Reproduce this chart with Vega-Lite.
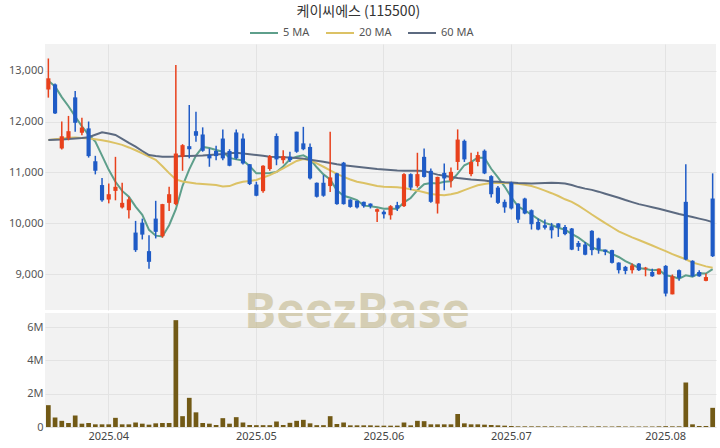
{
  "$schema": "https://vega.github.io/schema/vega-lite/v6.json",
  "background": "white",
  "padding": {"left": 0, "right": 4, "top": 5, "bottom": 0},
  "title": {"text": "케이씨에스 (115500)", "font": "Noto Sans CJK KR", "fontSize": 14, "fontWeight": "normal", "color": "#333333", "anchor": "middle", "offset": -1},
  "datasets": {
    "d": [
      {"date":"2025-03-19","open":12630,"high":13240,"low":12470,"close":12850,"volume":1310000,"ma5":12800,"ma20":11635,"ma60":11635},
      {"date":"2025-03-20","open":12730,"high":12750,"low":12150,"close":12160,"volume":570000,"ma5":12690,"ma20":11650,"ma60":11640},
      {"date":"2025-03-21","open":11470,"high":12000,"low":11450,"close":11710,"volume":370000,"ma5":12480,"ma20":11665,"ma60":11645},
      {"date":"2025-03-24","open":11670,"high":12110,"low":11630,"close":11810,"volume":240000,"ma5":12300,"ma20":11680,"ma60":11655},
      {"date":"2025-03-25","open":12475,"high":12600,"low":11800,"close":11975,"volume":690000,"ma5":12100,"ma20":11685,"ma60":11665},
      {"date":"2025-03-26","open":11780,"high":12075,"low":11730,"close":11880,"volume":200000,"ma5":11905,"ma20":11675,"ma60":11675},
      {"date":"2025-03-27","open":11865,"high":12000,"low":11290,"close":11320,"volume":240000,"ma5":11740,"ma20":11665,"ma60":11690},
      {"date":"2025-03-28","open":11220,"high":11325,"low":10960,"close":11030,"volume":160000,"ma5":11605,"ma20":11650,"ma60":11740},
      {"date":"2025-03-31","open":10750,"high":10890,"low":10420,"close":10450,"volume":160000,"ma5":11330,"ma20":11630,"ma60":11790},
      {"date":"2025-04-01","open":10465,"high":10780,"low":10390,"close":10570,"volume":160000,"ma5":11050,"ma20":11605,"ma60":11765},
      {"date":"2025-04-02","open":10635,"high":11305,"low":10450,"close":10715,"volume":550000,"ma5":10815,"ma20":11575,"ma60":11735},
      {"date":"2025-04-03","open":10310,"high":10795,"low":10290,"close":10400,"volume":160000,"ma5":10635,"ma20":11540,"ma60":11660},
      {"date":"2025-04-04","open":10255,"high":10520,"low":10090,"close":10470,"volume":160000,"ma5":10520,"ma20":11490,"ma60":11580},
      {"date":"2025-04-07","open":9815,"high":10045,"low":9435,"close":9470,"volume":270000,"ma5":10325,"ma20":11435,"ma60":11505},
      {"date":"2025-04-08","open":10010,"high":10090,"low":9680,"close":9775,"volume":200000,"ma5":10165,"ma20":11375,"ma60":11420},
      {"date":"2025-04-09","open":9450,"high":9765,"low":9105,"close":9240,"volume":140000,"ma5":9870,"ma20":11310,"ma60":11340},
      {"date":"2025-04-10","open":10090,"high":10440,"low":9700,"close":9830,"volume":220000,"ma5":9755,"ma20":11245,"ma60":11320},
      {"date":"2025-04-11","open":9745,"high":10380,"low":9715,"close":10375,"volume":240000,"ma5":9740,"ma20":11120,"ma60":11305},
      {"date":"2025-04-14","open":10400,"high":10715,"low":10240,"close":10570,"volume":240000,"ma5":9960,"ma20":10985,"ma60":11305},
      {"date":"2025-04-15","open":10375,"high":13110,"low":10355,"close":11370,"volume":6410000,"ma5":10275,"ma20":10860,"ma60":11310},
      {"date":"2025-04-16","open":11305,"high":11555,"low":11030,"close":11535,"volume":650000,"ma5":10735,"ma20":10820,"ma60":11320},
      {"date":"2025-04-17","open":11515,"high":12325,"low":11275,"close":11455,"volume":1750000,"ma5":11060,"ma20":10800,"ma60":11320},
      {"date":"2025-04-18","open":11810,"high":12190,"low":11600,"close":11720,"volume":880000,"ma5":11330,"ma20":10780,"ma60":11325},
      {"date":"2025-04-21","open":11745,"high":11885,"low":11405,"close":11425,"volume":240000,"ma5":11500,"ma20":10770,"ma60":11330},
      {"date":"2025-04-22","open":11340,"high":11470,"low":11110,"close":11275,"volume":200000,"ma5":11480,"ma20":10760,"ma60":11340},
      {"date":"2025-04-23","open":11420,"high":11525,"low":11240,"close":11320,"volume":120000,"ma5":11440,"ma20":10750,"ma60":11350},
      {"date":"2025-04-24","open":11665,"high":11845,"low":11240,"close":11275,"volume":530000,"ma5":11405,"ma20":10720,"ma60":11360},
      {"date":"2025-04-25","open":11420,"high":11455,"low":11120,"close":11130,"volume":200000,"ma5":11285,"ma20":10730,"ma60":11375},
      {"date":"2025-04-28","open":11785,"high":11845,"low":11255,"close":11275,"volume":590000,"ma5":11255,"ma20":10780,"ma60":11385},
      {"date":"2025-04-29","open":11665,"high":11765,"low":11155,"close":11175,"volume":270000,"ma5":11235,"ma20":10815,"ma60":11370},
      {"date":"2025-04-30","open":11160,"high":11165,"low":10750,"close":10770,"volume":120000,"ma5":11125,"ma20":10830,"ma60":11355},
      {"date":"2025-05-02","open":10760,"high":10815,"low":10530,"close":10540,"volume":110000,"ma5":10980,"ma20":10850,"ma60":11340},
      {"date":"2025-05-07","open":10630,"high":11140,"low":10600,"close":11130,"volume":110000,"ma5":10980,"ma20":10900,"ma60":11325},
      {"date":"2025-05-08","open":11065,"high":11340,"low":11030,"close":11320,"volume":110000,"ma5":10985,"ma20":10945,"ma60":11305},
      {"date":"2025-05-09","open":11715,"high":11765,"low":11140,"close":11255,"volume":330000,"ma5":11005,"ma20":11010,"ma60":11300},
      {"date":"2025-05-12","open":11240,"high":11435,"low":11175,"close":11320,"volume":120000,"ma5":11115,"ma20":11080,"ma60":11295},
      {"date":"2025-05-13","open":11305,"high":11405,"low":11205,"close":11240,"volume":250000,"ma5":11255,"ma20":11150,"ma60":11290},
      {"date":"2025-05-14","open":11800,"high":11800,"low":11385,"close":11405,"volume":370000,"ma5":11310,"ma20":11225,"ma60":11280},
      {"date":"2025-05-15","open":11570,"high":11895,"low":11435,"close":11455,"volume":430000,"ma5":11335,"ma20":11260,"ma60":11270},
      {"date":"2025-05-16","open":11500,"high":11570,"low":10860,"close":10880,"volume":220000,"ma5":11260,"ma20":11240,"ma60":11250},
      {"date":"2025-05-19","open":10795,"high":10800,"low":10505,"close":10520,"volume":110000,"ma5":11100,"ma20":11175,"ma60":11230},
      {"date":"2025-05-20","open":10795,"high":10945,"low":10520,"close":10540,"volume":110000,"ma5":10960,"ma20":11110,"ma60":11210},
      {"date":"2025-05-21","open":10730,"high":11800,"low":10615,"close":10900,"volume":650000,"ma5":10860,"ma20":11040,"ma60":11185},
      {"date":"2025-05-22","open":10980,"high":10990,"low":10365,"close":10375,"volume":180000,"ma5":10645,"ma20":10970,"ma60":11160},
      {"date":"2025-05-23","open":11190,"high":11205,"low":10365,"close":10375,"volume":270000,"ma5":10540,"ma20":10910,"ma60":11140},
      {"date":"2025-05-26","open":10465,"high":10470,"low":10305,"close":10320,"volume":100000,"ma5":10500,"ma20":10860,"ma60":11125},
      {"date":"2025-05-27","open":10440,"high":10440,"low":10290,"close":10310,"volume":100000,"ma5":10455,"ma20":10815,"ma60":11110},
      {"date":"2025-05-28","open":10420,"high":10425,"low":10305,"close":10335,"volume":100000,"ma5":10345,"ma20":10790,"ma60":11095},
      {"date":"2025-05-29","open":10385,"high":10390,"low":10290,"close":10335,"volume":100000,"ma5":10335,"ma20":10760,"ma60":11080},
      {"date":"2025-05-30","open":10225,"high":10290,"low":10025,"close":10275,"volume":80000,"ma5":10315,"ma20":10730,"ma60":11065},
      {"date":"2025-06-02","open":10225,"high":10255,"low":10090,"close":10175,"volume":80000,"ma5":10285,"ma20":10715,"ma60":11055},
      {"date":"2025-06-04","open":10155,"high":10355,"low":10070,"close":10335,"volume":80000,"ma5":10290,"ma20":10710,"ma60":11045},
      {"date":"2025-06-05","open":10355,"high":10420,"low":10240,"close":10290,"volume":80000,"ma5":10280,"ma20":10705,"ma60":11035},
      {"date":"2025-06-09","open":10335,"high":10980,"low":10320,"close":10965,"volume":270000,"ma5":10410,"ma20":10690,"ma60":11030},
      {"date":"2025-06-10","open":10965,"high":10980,"low":10650,"close":10700,"volume":100000,"ma5":10495,"ma20":10665,"ma60":11030},
      {"date":"2025-06-11","open":10730,"high":11385,"low":10700,"close":10965,"volume":370000,"ma5":10650,"ma20":10640,"ma60":11030},
      {"date":"2025-06-12","open":11305,"high":11470,"low":10900,"close":10910,"volume":350000,"ma5":10765,"ma20":10610,"ma60":11025},
      {"date":"2025-06-13","open":11030,"high":11075,"low":10400,"close":10420,"volume":160000,"ma5":10790,"ma20":10575,"ma60":10990},
      {"date":"2025-06-16","open":10385,"high":10915,"low":10190,"close":10910,"volume":160000,"ma5":10780,"ma20":10560,"ma60":10955},
      {"date":"2025-06-17","open":10990,"high":11175,"low":10650,"close":10880,"volume":160000,"ma5":10815,"ma20":10550,"ma60":10935},
      {"date":"2025-06-18","open":10835,"high":11095,"low":10700,"close":11010,"volume":160000,"ma5":10825,"ma20":10570,"ma60":10910},
      {"date":"2025-06-19","open":11205,"high":11845,"low":11045,"close":11645,"volume":780000,"ma5":10975,"ma20":10600,"ma60":10890},
      {"date":"2025-06-20","open":11620,"high":11645,"low":11205,"close":11255,"volume":220000,"ma5":11140,"ma20":10650,"ma60":10875},
      {"date":"2025-06-23","open":10965,"high":11385,"low":10925,"close":11205,"volume":160000,"ma5":11200,"ma20":10700,"ma60":10860},
      {"date":"2025-06-24","open":11205,"high":11405,"low":11120,"close":11340,"volume":160000,"ma5":11290,"ma20":10745,"ma60":10850},
      {"date":"2025-06-25","open":11425,"high":11450,"low":10965,"close":10980,"volume":140000,"ma5":11285,"ma20":10770,"ma60":10840},
      {"date":"2025-06-26","open":10925,"high":10945,"low":10505,"close":10570,"volume":120000,"ma5":11070,"ma20":10790,"ma60":10820},
      {"date":"2025-06-27","open":10700,"high":10730,"low":10375,"close":10400,"volume":100000,"ma5":10900,"ma20":10795,"ma60":10815},
      {"date":"2025-06-30","open":10420,"high":10465,"low":10205,"close":10310,"volume":80000,"ma5":10720,"ma20":10790,"ma60":10805},
      {"date":"2025-07-01","open":10795,"high":10815,"low":10270,"close":10290,"volume":60000,"ma5":10510,"ma20":10785,"ma60":10800},
      {"date":"2025-07-02","open":10385,"high":10390,"low":10005,"close":10070,"volume":40000,"ma5":10330,"ma20":10775,"ma60":10790},
      {"date":"2025-07-03","open":10485,"high":10500,"low":10175,"close":10190,"volume":40000,"ma5":10250,"ma20":10755,"ma60":10785},
      {"date":"2025-07-04","open":10255,"high":10270,"low":9875,"close":9980,"volume":40000,"ma5":10170,"ma20":10730,"ma60":10780},
      {"date":"2025-07-07","open":10025,"high":10090,"low":9860,"close":9875,"volume":40000,"ma5":10080,"ma20":10690,"ma60":10785},
      {"date":"2025-07-08","open":9960,"high":10070,"low":9875,"close":9910,"volume":40000,"ma5":10005,"ma20":10640,"ma60":10790},
      {"date":"2025-07-09","open":9940,"high":10005,"low":9700,"close":9860,"volume":40000,"ma5":9965,"ma20":10590,"ma60":10795},
      {"date":"2025-07-10","open":9995,"high":10000,"low":9730,"close":9915,"volume":30000,"ma5":9910,"ma20":10535,"ma60":10790},
      {"date":"2025-07-11","open":9925,"high":9965,"low":9765,"close":9785,"volume":40000,"ma5":9870,"ma20":10470,"ma60":10780},
      {"date":"2025-07-14","open":9895,"high":9905,"low":9470,"close":9480,"volume":30000,"ma5":9790,"ma20":10420,"ma60":10750},
      {"date":"2025-07-15","open":9610,"high":9650,"low":9455,"close":9535,"volume":30000,"ma5":9715,"ma20":10345,"ma60":10710},
      {"date":"2025-07-16","open":9580,"high":9630,"low":9370,"close":9380,"volume":40000,"ma5":9620,"ma20":10260,"ma60":10680},
      {"date":"2025-07-17","open":9850,"high":9860,"low":9370,"close":9470,"volume":30000,"ma5":9530,"ma20":10170,"ma60":10655},
      {"date":"2025-07-18","open":9700,"high":9715,"low":9400,"close":9480,"volume":40000,"ma5":9470,"ma20":10085,"ma60":10620},
      {"date":"2025-07-21","open":9480,"high":9480,"low":9370,"close":9435,"volume":30000,"ma5":9460,"ma20":10000,"ma60":10580},
      {"date":"2025-07-22","open":9470,"high":9475,"low":9205,"close":9220,"volume":30000,"ma5":9395,"ma20":9920,"ma60":10540},
      {"date":"2025-07-23","open":9225,"high":9230,"low":9010,"close":9075,"volume":40000,"ma5":9335,"ma20":9840,"ma60":10500},
      {"date":"2025-07-24","open":9140,"high":9160,"low":8995,"close":9060,"volume":30000,"ma5":9255,"ma20":9780,"ma60":10455},
      {"date":"2025-07-25","open":9075,"high":9205,"low":9010,"close":9170,"volume":30000,"ma5":9190,"ma20":9720,"ma60":10415},
      {"date":"2025-07-28","open":9205,"high":9215,"low":9060,"close":9075,"volume":30000,"ma5":9120,"ma20":9670,"ma60":10375},
      {"date":"2025-07-29","open":9105,"high":9140,"low":8955,"close":9125,"volume":30000,"ma5":9100,"ma20":9615,"ma60":10345},
      {"date":"2025-07-30","open":9040,"high":9105,"low":8945,"close":8955,"volume":30000,"ma5":9075,"ma20":9560,"ma60":10315},
      {"date":"2025-07-31","open":8995,"high":9110,"low":8990,"close":9105,"volume":40000,"ma5":9085,"ma20":9505,"ma60":10285},
      {"date":"2025-08-01","open":9160,"high":9175,"low":8560,"close":8615,"volume":50000,"ma5":8975,"ma20":9450,"ma60":10250},
      {"date":"2025-08-04","open":8600,"high":8990,"low":8600,"close":8955,"volume":40000,"ma5":8950,"ma20":9390,"ma60":10215},
      {"date":"2025-08-05","open":9075,"high":9090,"low":8865,"close":8925,"volume":40000,"ma5":8910,"ma20":9340,"ma60":10180},
      {"date":"2025-08-06","open":10420,"high":11160,"low":9270,"close":9285,"volume":2670000,"ma5":8975,"ma20":9290,"ma60":10150},
      {"date":"2025-08-07","open":9260,"high":9270,"low":8945,"close":8955,"volume":160000,"ma5":8945,"ma20":9225,"ma60":10120},
      {"date":"2025-08-08","open":9040,"high":9075,"low":8945,"close":8955,"volume":60000,"ma5":9015,"ma20":9190,"ma60":10090},
      {"date":"2025-08-11","open":8865,"high":9010,"low":8860,"close":8940,"volume":60000,"ma5":9010,"ma20":9150,"ma60":10060},
      {"date":"2025-08-12","open":10485,"high":10980,"low":9335,"close":9350,"volume":1150000,"ma5":9095,"ma20":9125,"ma60":10020}
    ],
    "wm": [{"label": "BeezBase", "date": "2025-05-27", "price": 7944, "level": 5940000}]
  },
  "spacing": 3,
  "vconcat": [
    {
      "width": 671,
      "height": 266,
      "data": {"name": "d"},
      "layer": [
        {
          "transform": [{"fold": ["ma5", "ma20", "ma60"], "as": ["series", "ma"]}],
          "mark": {"type": "line", "strokeWidth": 2},
          "encoding": {
            "x": {"field": "date", "type": "ordinal", "scale": {"type": "band", "paddingInner": 0, "paddingOuter": 0}, "axis": {"values": ["2025-04-01", "2025-05-02", "2025-06-02", "2025-07-01", "2025-08-01"], "labels": false, "ticks": false, "domain": false, "title": null, "grid": true, "gridColor": "#e3e3e3", "bandPosition": 0.5, "minExtent": 0, "maxExtent": 0}},
            "y": {"field": "ma", "type": "quantitative", "scale": {"domain": [8292, 13525], "nice": false, "zero": false}, "axis": {"values": [9000, 10000, 11000, 12000, 13000], "format": ",d", "title": null, "domain": false, "ticks": false, "labelPadding": 2, "minExtent": 45, "maxExtent": 45, "gridColor": "#e3e3e3", "labelFontSize": 11, "labelFont": "Noto Sans", "labelColor": "#555555"}},
            "color": {"field": "series", "type": "nominal", "scale": {"domain": ["ma5", "ma20", "ma60"], "range": ["#5e9f8b", "#dcc265", "#5c6a80"]}, "legend": {"orient": "none", "legendX": 204, "legendY": -26, "direction": "horizontal", "title": null, "symbolType": "stroke", "symbolStrokeWidth": 2, "symbolSize": 784, "labelFontSize": 11, "labelFont": "Noto Sans", "labelColor": "#555555", "columnPadding": 12, "labelExpr": "datum.label == 'ma5' ? '5 MA' : datum.label == 'ma20' ? '20 MA' : '60 MA'"}}
          }
        },
        {
          "mark": {"type": "rule", "strokeWidth": 1.5},
          "encoding": {
            "x": {"field": "date", "type": "ordinal", "scale": {"type": "band", "paddingInner": 0, "paddingOuter": 0}},
            "y": {"field": "low", "type": "quantitative"},
            "y2": {"field": "high"},
            "color": {"condition": {"test": "datum.close >= datum.open", "value": "#e8411c"}, "value": "#1f5bc6"}
          }
        },
        {
          "mark": {"type": "bar", "width": {"band": 0.62}},
          "encoding": {
            "x": {"field": "date", "type": "ordinal", "scale": {"type": "band", "paddingInner": 0, "paddingOuter": 0}},
            "y": {"field": "open", "type": "quantitative"},
            "y2": {"field": "close"},
            "color": {"condition": {"test": "datum.close >= datum.open", "value": "#e8411c"}, "value": "#1f5bc6"}
          }
        },
        {
          "data": {"name": "wm"},
          "mark": {"type": "text", "clip": true, "font": "Open Sans", "fontSize": 48, "fontWeight": "bold", "color": "#beb282", "opacity": 0.55, "align": "center", "baseline": "alphabetic"},
          "encoding": {
            "x": {"field": "date", "type": "ordinal", "scale": {"type": "band", "paddingInner": 0, "paddingOuter": 0}},
            "y": {"field": "price", "type": "quantitative"},
            "text": {"field": "label"}
          }
        }
      ]
    },
    {
      "width": 671,
      "height": 114,
      "layer": [
        {
          "data": {"name": "d"},
          "mark": {"type": "bar", "width": {"band": 0.7}, "color": "#725a16"},
          "encoding": {
            "x": {"field": "date", "type": "ordinal", "scale": {"type": "band", "paddingInner": 0, "paddingOuter": 0}, "axis": {"values": ["2025-04-01", "2025-05-02", "2025-06-02", "2025-07-01", "2025-08-01"], "labelExpr": "replace(slice(datum.value, 0, 7), '-', '.')", "labelAngle": 0, "labelFontSize": 11, "labelFont": "Noto Sans", "labelColor": "#444444", "labelPadding": 3, "ticks": false, "domain": false, "title": null, "grid": true, "gridColor": "#e3e3e3", "bandPosition": 0.5}},
            "y": {"field": "volume", "type": "quantitative", "scale": {"domain": [0, 6840000], "nice": false}, "axis": {"values": [0, 2000000, 4000000, 6000000], "labelExpr": "datum.value == 0 ? '0' : format(datum.value / 1000000, 'd') + 'M'", "labelOverlap": false, "title": null, "domain": false, "ticks": false, "labelPadding": 2, "minExtent": 45, "maxExtent": 45, "gridColor": "#e3e3e3", "labelFontSize": 11, "labelFont": "Noto Sans", "labelColor": "#555555"}}
          }
        },
        {
          "data": {"name": "wm"},
          "mark": {"type": "text", "clip": true, "font": "Open Sans", "fontSize": 48, "fontWeight": "bold", "color": "#beb282", "opacity": 0.55, "align": "center", "baseline": "alphabetic"},
          "encoding": {
            "x": {"field": "date", "type": "ordinal", "scale": {"type": "band", "paddingInner": 0, "paddingOuter": 0}},
            "y": {"field": "level", "type": "quantitative", "axis": {"values": [0, 2000000, 4000000, 6000000], "labelExpr": "datum.value == 0 ? '0' : format(datum.value / 1000000, 'd') + 'M'", "labelOverlap": false, "title": null, "domain": false, "ticks": false, "labelPadding": 2, "minExtent": 45, "maxExtent": 45, "gridColor": "#e3e3e3", "labelFontSize": 11, "labelFont": "Noto Sans", "labelColor": "#555555"}},
            "text": {"field": "label"}
          }
        }
      ]
    }
  ],
  "config": {
    "view": {"stroke": null, "fill": "#f2f2f2"},
    "axis": {"gridWidth": 1}
  }
}
